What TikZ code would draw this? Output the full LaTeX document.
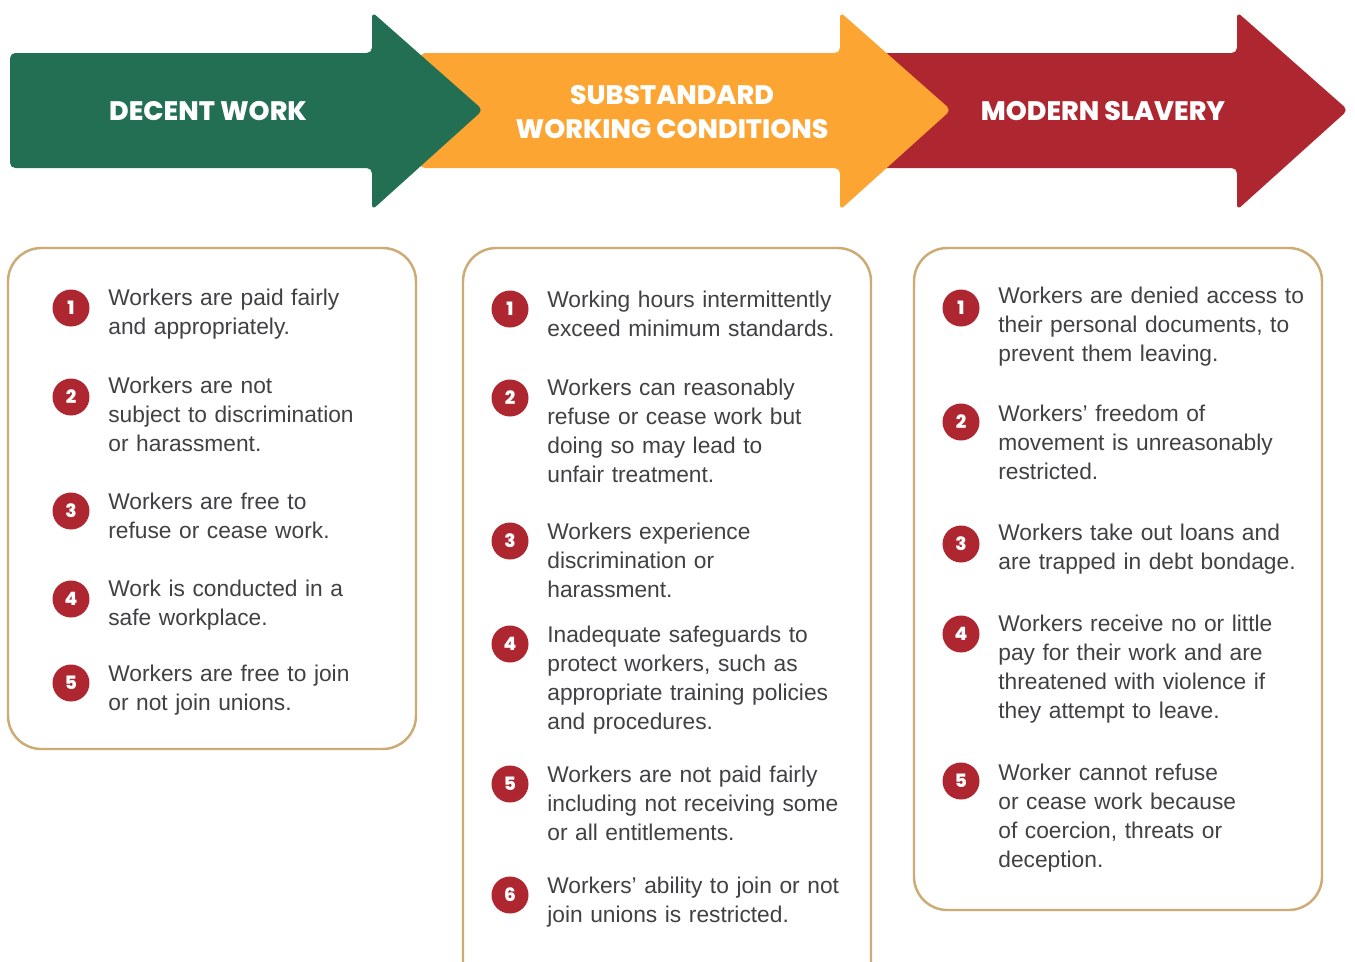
\documentclass[tikz,border=0pt]{standalone}
\usepackage{fontspec}
\setmainfont{Liberation Sans}
\newfontfamily\headfont{Poppins}[BoldFont={Poppins ExtraBold}]
\definecolor{dwgreen}{HTML}{236F53}
\definecolor{suborange}{HTML}{FCA532}
\definecolor{msred}{HTML}{AE2730}
\definecolor{boxtan}{HTML}{CDAB74}
\definecolor{txtgray}{HTML}{414042}
\tikzset{
  headtxt/.style={text=white, font=\headfont\bfseries\fontsize{15.2}{19.8}\selectfont, inner sep=0pt},
  panel/.style={draw=boxtan, line width=1.4pt, rounded corners=19pt, fill=white},
  badge/.style={circle, fill=msred, minimum size=0.74cm, inner sep=0pt, text=white, font=\headfont\bfseries\fontsize{10.5}{10.5}\selectfont},
  itemtxt/.style={text=txtgray, align=left, inner sep=0pt, text width=7cm, font=\fontsize{12.95}{16.6}\selectfont},
  arrowshape/.style={rounded corners=3pt}
}
\newcommand\mkitem[6]{%
  \node[badge] (#1b) at (#2,#3) {#4};
  \node[itemtxt, anchor=base west] (#1t) at (#2+37,#5) {#6};
}
\begin{document}
\begin{tikzpicture}[x=0.02cm,y=-0.02cm]
\clip (0,0) rectangle (1355,961);
\fill[white] (0,0) rectangle (1355,961);
% arrows
\fill[msred, arrowshape] (880,53) -- (1237,53) -- (1237,12) -- (1348,110) -- (1237,210) -- (1237,168) -- (880,168) -- cycle;
\fill[suborange, arrowshape] (420,53) -- (840,53) -- (840,12) -- (951,110) -- (840,210) -- (840,168) -- (420,168) -- cycle;
\fill[dwgreen, arrowshape] (10,53) -- (372,53) -- (372,12) -- (483,110) -- (372,210) -- (372,168) -- (10,168) -- cycle;
\node[headtxt] (dw) at (208,111) {DECENT WORK};
\node[headtxt, align=center] (sub) at (672,112) {SUBSTANDARD\\WORKING CONDITIONS};
\node[headtxt] (ms) at (1103,111) {MODERN SLAVERY};
% panels
\draw[panel] (8,248) rectangle (416,749);
\draw[panel] (463,248) rectangle (871,995);
\draw[panel] (914,248) rectangle (1322,910);
% column 1
\mkitem{a1}{71}{308}{1}{305}{Workers are paid fairly\\and appropriately.}
\mkitem{a2}{71}{397}{2}{393}{Workers are not\\subject to discrimination\\or harassment.}
\mkitem{a3}{71}{511}{3}{509}{Workers are free to\\refuse or cease work.}
\mkitem{a4}{71}{599}{4}{596}{Work is conducted in a\\safe workplace.}
\mkitem{a5}{71}{683}{5}{681}{Workers are free to join\\or not join unions.}
% column 2
\mkitem{b1}{510}{309}{1}{307}{Working hours intermittently\\exceed minimum standards.}
\mkitem{b2}{510}{398}{2}{395}{Workers can reasonably\\refuse or cease work but\\doing so may lead to\\unfair treatment.}
\mkitem{b3}{510}{541}{3}{539}{Workers experience\\discrimination or\\harassment.}
\mkitem{b4}{510}{644}{4}{642}{Inadequate safeguards to\\protect workers, such as\\appropriate training policies\\and procedures.}
\mkitem{b5}{510}{784}{5}{782}{Workers are not paid fairly\\including not receiving some\\or all entitlements.}
\mkitem{b6}{510}{895}{6}{893}{Workers’ ability to join or not\\join unions is restricted.}
% column 3
\mkitem{c1}{961}{308}{1}{303}{Workers are denied access to\\their personal documents, to\\prevent them leaving.}
\mkitem{c2}{961}{422}{2}{421}{Workers’ freedom of\\movement is unreasonably\\restricted.}
\mkitem{c3}{961}{544}{3}{540}{Workers take out loans and\\are trapped in debt bondage.}
\mkitem{c4}{961}{634}{4}{631}{Workers receive no or little\\pay for their work and are\\threatened with violence if\\they attempt to leave.}
\mkitem{c5}{961}{781}{5}{780}{Worker cannot refuse\\or cease work because\\of coercion, threats or\\deception.}
\end{tikzpicture}
\end{document}
